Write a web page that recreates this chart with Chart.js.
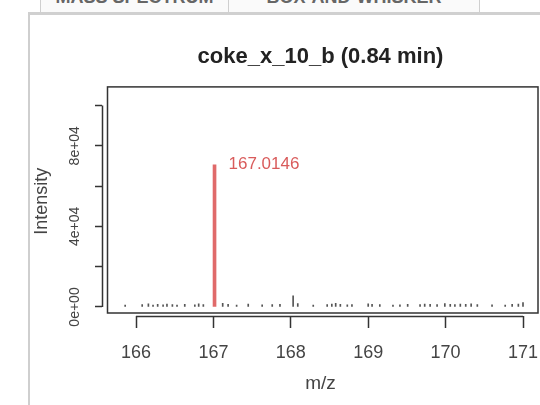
<!DOCTYPE html>
<html>
<head>
<meta charset="utf-8">
<script src="https://cdn.jsdelivr.net/npm/chart.js@4.4.1/dist/chart.umd.min.js"></script>
<style>
  body { margin: 0; background: #fff; }
  #wrap { position: relative; width: 540px; height: 405px; overflow: hidden; background: #fff; }
  .tab {
    position: absolute; top: -12px; height: 24px;
    border-left: 1px solid #cfcfcf; border-right: 1px solid #cfcfcf;
    font: bold 18px "Liberation Sans", Arial, sans-serif; color: #666;
    text-align: center; line-height: 18px; background: #fafafa; overflow: hidden;
  }
  #panel {
    position: absolute; left: 28px; top: 12px; width: 520px; height: 400px;
    border-left: 2px solid #cfcfcf; border-top: 3px solid #d0d0d0;
  }
  #chart { position: absolute; left: 0; top: 0; }
</style>
</head>
<body>
<div id="wrap">
  <div class="tab" style="left:40px;width:187px">MASS SPECTRUM</div>
  <div class="tab" style="left:228px;width:250px">BOX-AND-WHISKER</div>
  <div id="panel"></div>
  <canvas id="chart" width="540" height="405"></canvas>
</div>
<script>
// main peak
const peakMz = [167.0146];
const peakIntensity = [70500];

// small noise peaks along the baseline
const noiseMz = [165.86, 166.08, 166.16, 166.22, 166.28, 166.35, 166.40, 166.47, 166.53, 166.63,
  166.76, 166.81, 166.87, 167.12, 167.19, 167.30, 167.45, 167.63, 167.76, 167.86,
  168.03, 168.09, 168.29, 168.47, 168.53, 168.58, 168.64, 168.73, 168.79, 169.00,
  169.05, 169.15, 169.32, 169.41, 169.51, 169.67, 169.73, 169.80, 169.89, 169.99,
  170.06, 170.12, 170.19, 170.26, 170.33, 170.41, 170.60, 170.77, 170.86, 170.94, 171.00];
const noiseIntensity = [900, 1200, 1500, 1000, 1300, 1100, 1400, 1200, 1000, 1300,
  1100, 1500, 1200, 1800, 1300, 1000, 1400, 1100, 1200, 1300,
  5500, 1700, 1000, 1200, 1400, 1800, 1300, 1100, 1200, 1600,
  1300, 1200, 1000, 1100, 1300, 1200, 1400, 1300, 1200, 1700,
  1300, 1200, 1400, 1300, 1500, 1200, 1100, 1000, 1300, 1400, 2200];

const xTicks = [166, 167, 168, 169, 170, 171];
const yTicks = [0, 20000, 40000, 60000, 80000, 100000];
const yLabelled = [0, 40000, 80000];

const chartTitle = 'coke_x_10_b (0.84 min)';
const peakLabel = '167.0146';

function sci(v) {
  if (v === 0) return '0e+00';
  const e = Math.floor(Math.log10(v));
  return (v / Math.pow(10, e)) + 'e+' + String(e).padStart(2, '0');
}

// R-like frame: box around plot region and axis lines spanning first..last tick
const rFrame = {
  id: 'rFrame',
  afterDraw(chart) {
    const { ctx, chartArea: a, scales: { x, y } } = chart;
    ctx.save();
    ctx.strokeStyle = '#333';
    ctx.lineWidth = 1.5;
    ctx.strokeRect(a.left + 5.5, a.top + 0.5, a.right - a.left - 6.5, a.bottom - a.top - 3.5);
    ctx.beginPath();
    ctx.moveTo(a.left + 0.5, y.getPixelForValue(yTicks[0]));
    ctx.lineTo(a.left + 0.5, y.getPixelForValue(yTicks[yTicks.length - 1]));
    ctx.moveTo(x.getPixelForValue(xTicks[0]), a.bottom + 0.5);
    ctx.lineTo(x.getPixelForValue(xTicks[xTicks.length - 1]), a.bottom + 0.5);
    ctx.stroke();

    // label beside the main peak
    const px = x.getPixelForValue(peakMz[0]);
    const py = y.getPixelForValue(peakIntensity[0]);
    ctx.fillStyle = '#d95b5b';
    ctx.font = '17px "Liberation Sans", Arial, sans-serif';
    ctx.textAlign = 'left';
    ctx.textBaseline = 'middle';
    ctx.fillText(peakLabel, px + 14, py - 1);
    ctx.restore();
  }
};

new Chart(document.getElementById('chart'), {
  type: 'bar',
  data: {
    datasets: [
      {
        label: 'noise',
        data: noiseMz.map((m, i) => ({ x: m, y: noiseIntensity[i] })),
        backgroundColor: '#555',
        barThickness: 1,
        order: 2
      },
      {
        label: 'peak',
        data: peakMz.map((m, i) => ({ x: m, y: peakIntensity[i] })),
        backgroundColor: '#e06a6a',
        barThickness: 3,
        order: 1
      }
    ]
  },
  plugins: [rFrame],
  options: {
    responsive: false,
    animation: false,
    devicePixelRatio: 1,
    layout: { padding: { left: 0, right: 1, top: 0, bottom: 0 } },
    datasets: { bar: { grouped: false } },
    plugins: {
      legend: { display: false },
      tooltip: { enabled: false },
      title: {
        display: true,
        text: chartTitle,
        fullSize: false,
        color: '#222',
        font: { family: '"Liberation Sans", Arial, sans-serif', size: 22, weight: 'bold' },
        padding: { top: 44, bottom: 16 }
      }
    },
    scales: {
      x: {
        type: 'linear',
        offset: false,
        min: 165.5607,
        max: 171.2067,
        afterBuildTicks: s => { s.ticks = xTicks.map(v => ({ value: v })); },
        afterFit: s => { s.height = 89; s.paddingLeft = 0; s.paddingRight = 0; },
        border: { display: false },
        grid: { offset: false, drawOnChartArea: false, tickLength: 12, color: '#333', tickWidth: 1.5 },
        ticks: {
          padding: 14,
          color: '#444',
          font: { family: '"Liberation Sans", Arial, sans-serif', size: 18 },
          callback: v => String(v)
        },
        title: {
          display: true,
          text: 'm/z',
          color: '#444',
          font: { family: '"Liberation Sans", Arial, sans-serif', size: 19 },
          padding: { top: 0, bottom: 10 }
        }
      },
      y: {
        min: -4480,
        max: 109450,
        afterBuildTicks: s => { s.ticks = yTicks.map(v => ({ value: v })); },
        afterFit: s => { s.width = 102; s.paddingTop = 0; s.paddingBottom = 0; },
        border: { display: false },
        grid: { drawOnChartArea: false, tickLength: 7, color: '#333', tickWidth: 1.5 },
        ticks: {
          autoSkip: false,
          minRotation: 90,
          maxRotation: 90,
          crossAlign: 'center',
          padding: 0,
          color: '#444',
          font: { family: '"Liberation Sans", Arial, sans-serif', size: 14 },
          callback: v => yLabelled.includes(v) ? sci(v) : ''
        },
        title: {
          display: true,
          text: 'Intensity',
          color: '#444',
          font: { family: '"Liberation Sans", Arial, sans-serif', size: 18 },
          padding: { top: 31, bottom: 0 }
        }
      }
    }
  }
});
</script>
</body>
</html>
